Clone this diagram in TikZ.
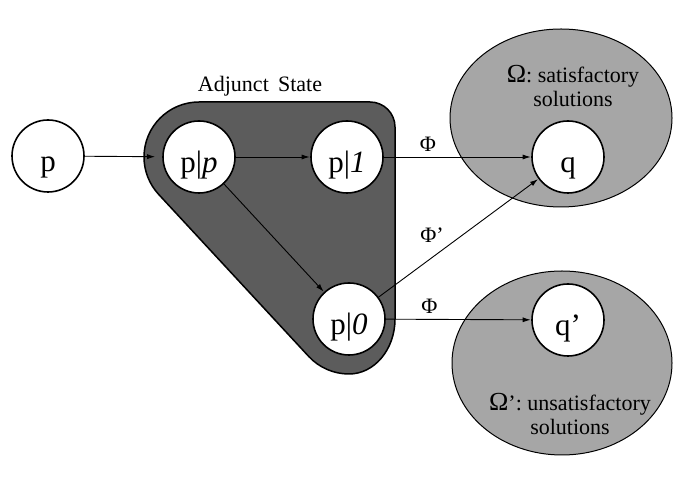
\documentclass[tikz,border=0pt]{standalone}
\usepackage{fontspec}
\setmainfont{Liberation Serif}
\usetikzlibrary{arrows.meta,calc}
\definecolor{blobgray}{gray}{0.36}
\definecolor{ellgray}{gray}{0.65}
\tikzset{
  state/.style={circle,draw=black,line width=1.6pt,fill=white,minimum size=72pt,inner sep=0pt,text height=31pt,text depth=0pt,font=\fontsize{31}{34}\selectfont},
  conn/.style={line width=0.9pt,-{Latex[length=8pt,width=5pt]},shorten >=0.5pt},
  lbl/.style={font=\fontsize{22}{24}\selectfont,inner sep=0pt},
  region/.style={draw=black,line width=1pt,fill=ellgray},
  blob/.style={draw=black,line width=1.5pt,fill=blobgray}
}
\newcommand{\bigOm}{{\fontsize{26}{24}\selectfont Ω}}
\begin{document}
\begin{tikzpicture}[x=1pt,y=1pt]
\useasboundingbox (0,0) rectangle (679,478);
% solution regions
\draw[region] (561,360) ellipse[x radius=111,y radius=89];
\draw[region] (562,115) ellipse[x radius=110,y radius=92];
% adjunct state region
\coordinate (ppc) at (199,321);
\coordinate (p0c) at (349,159);
\draw[blob] (370,376) -- (199,376) arc[start angle=90,end angle=222.8,radius=55]
  -- ($(p0c)+(222.8:55)$) arc[start angle=222.8,end angle=270,radius=55]
  arc[start angle=270,end angle=360,x radius=46,y radius=55]
  -- (395,351) arc[start angle=0,end angle=90,radius=25] -- cycle;
% states
\node[state] (p) at (48,322) {p};
\node[state] (pp) at (ppc) {p|\textit{p}};
\node[state] (p1) at (347,321) {p|\textit{1}};
\node[state] (p0) at (p0c) {p|\textit{0}};
\node[state] (q) at (568,321) {q};
\node[state] (q2) at (568,158) {q’};
% texts
\node[lbl] (adj) at (260,392) {Adjunct\, State};
\node[lbl,align=center] (om) at (573,392) {\bigOm: satisfactory\\solutions};
\node[lbl,align=center] (om2) at (570,64) {\bigOm’: unsatisfactory\\solutions};
% connectors
\draw[conn,shorten >=7pt] (p) -- (pp);
\draw[conn] (pp) -- (p1);
\draw[conn] (pp) -- (p0);
\draw[conn] (p1) -- node[lbl,pos=0.3,above=5pt] (phi1) {Φ} (q);
\draw[conn] (p0) -- (q);
\draw[conn] (p0) -- node[lbl,pos=0.3,above=5pt] (phi3) {Φ} (q2);
\node[lbl] (phi2) at (432,243) {Φ’};
\end{tikzpicture}
\end{document}
